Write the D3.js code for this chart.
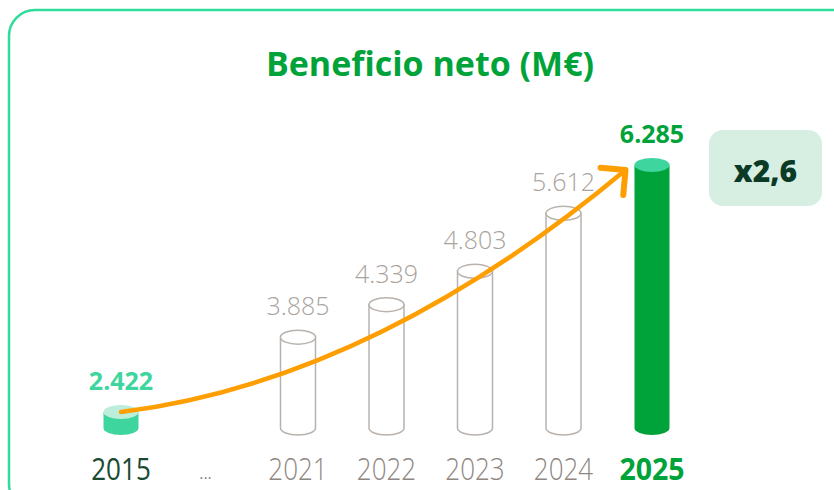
<!DOCTYPE html>
<html><head><meta charset="utf-8">
<script src="https://cdn.jsdelivr.net/npm/d3@7"></script>
<style>html,body{margin:0;padding:0;background:#fff;overflow:hidden}</style>
</head><body>
<svg id="chart" width="834" height="490"></svg>
<script>
const title = "Beneficio neto (M€)";
const categories = ["2015", "...", "2021", "2022", "2023", "2024", "2025"];
const years = ["2015", "2021", "2022", "2023", "2024", "2025"];
const values = [2422, 3885, 4339, 4803, 5612, 6285];
const valueLabels = ["2.422", "3.885", "4.339", "4.803", "5.612", "6.285"];
const multiplierLabel = "x2,6";

const svg = d3.select("#chart");

// card
svg.append("rect").attr("x", 9).attr("y", 10).attr("width", 850).attr("height", 500)
  .attr("rx", 26).attr("fill", "#fff").attr("stroke", "#2fdc9a").attr("stroke-width", 2.5);

svg.append("text").attr("x", 430).attr("y", 76).attr("text-anchor", "middle")
  .attr("font-family", "'Open Sans', Roboto, sans-serif").attr("font-weight", 700)
  .attr("font-size", 34).attr("fill", "#00a33a").text(title);

const x = d3.scalePoint().domain(categories).range([121, 652]);
const base = 428;
const y = d3.scaleLinear().domain([2620, 6285]).range([base, 165]);
const minH = 16, rx = 17.5, ry = 7;

const data = years.map((yr, i) => ({ year: yr, value: values[i], label: valueLabels[i], i }));
data.forEach(d => { d.cx = x(d.year); d.top = Math.min(y(d.value), base - minH); });

function style(d) {
  if (d.i === 0) return { body: "#3ed59f", top: "#bdeedc", stroke: "none", label: "#3ed59f", lw: 700, year: "#1b4a33", yw: 400, sx: 0.84 };
  if (d.i === data.length - 1) return { body: "#00a339", top: "#3ed59f", stroke: "none", label: "#00a33a", lw: 700, year: "#00a33a", yw: 700, sx: 0.92 };
  return { body: "#fff", top: "#fff", stroke: "#b9b2ac", label: "#aaa39d", lw: 300, year: "#8f8782", yw: 300, sx: 0.84 };
}

const g = svg.append("g");
data.forEach(d => {
  const s = style(d);
  const l = d.cx - rx, r = d.cx + rx;
  g.append("path")
    .attr("d", `M${l},${d.top} L${l},${base} A${rx},${ry} 0 0 0 ${r},${base} L${r},${d.top} Z`)
    .attr("fill", s.body).attr("stroke", s.stroke).attr("stroke-width", 1.5);
  g.append("ellipse").attr("cx", d.cx).attr("cy", d.top).attr("rx", rx).attr("ry", ry)
    .attr("fill", s.top).attr("stroke", s.stroke).attr("stroke-width", 1.5);
  g.append("text").attr("x", d.cx).attr("y", d.top - 22).attr("text-anchor", "middle")
    .attr("font-family", "'Open Sans', Roboto, sans-serif").attr("font-weight", s.lw)
    .attr("font-size", 25).attr("fill", s.label).text(d.label);
  g.append("text").attr("transform", `translate(${d.cx},480) scale(${s.sx},1)`)
    .attr("text-anchor", "middle")
    .attr("font-family", "'Open Sans', Roboto, sans-serif").attr("font-weight", s.yw)
    .attr("font-size", 31).attr("fill", s.year).text(d.year);
});

svg.append("text").attr("x", x("...") - 4).attr("y", 479).attr("text-anchor", "middle")
  .attr("font-family", "'Open Sans', sans-serif").attr("font-size", 16).attr("fill", "#8f8782").text("...");

// growth arrow
const first = data[0], last = data[data.length - 1];
const S = [first.cx, first.top], E = [last.cx - rx - 9, last.top + 5];
const C = [(S[0] + E[0]) / 2, S[1] - 0.13 * (S[1] - E[1])];
const p = d3.path();
p.moveTo(S[0], S[1]); p.quadraticCurveTo(C[0], C[1], E[0], E[1]);
svg.append("path").attr("d", p.toString()).attr("fill", "none").attr("stroke", "#ff9e00")
  .attr("stroke-width", 4.5).attr("stroke-linecap", "round");
const ang = Math.atan2(C[1] - E[1], C[0] - E[0]);
const armL = 25, spread = Math.PI / 4;
const hp = d3.path();
hp.moveTo(E[0] + armL * Math.cos(ang - spread), E[1] + armL * Math.sin(ang - spread));
hp.lineTo(E[0], E[1]);
hp.lineTo(E[0] + armL * Math.cos(ang + spread), E[1] + armL * Math.sin(ang + spread));
svg.append("path").attr("d", hp.toString()).attr("fill", "none").attr("stroke", "#ff9e00")
  .attr("stroke-width", 6).attr("stroke-linecap", "round").attr("stroke-linejoin", "round");

// multiplier box
const bx = last.cx + 57, by = 130;
svg.append("rect").attr("x", bx).attr("y", by).attr("width", 113).attr("height", 76).attr("rx", 14)
  .attr("fill", "#d7eee2");
svg.append("text").attr("x", bx + 56.5).attr("y", by + 52).attr("text-anchor", "middle")
  .attr("font-family", "'Open Sans', Roboto, sans-serif").attr("font-weight", 800)
  .attr("font-size", 30).attr("fill", "#0b3b26").text(multiplierLabel);
</script>
</body></html>
